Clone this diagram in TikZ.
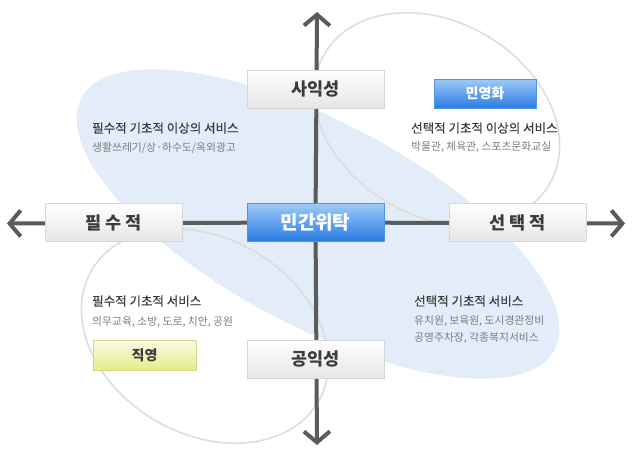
\documentclass[tikz,border=0pt]{standalone}
\usepackage{fontspec}
\setmainfont{Noto Sans CJK KR}
\newfontfamily\headfont[FakeBold=0.5]{Noto Sans CJK KR}
\usepackage{tikz}
\usetikzlibrary{arrows.meta}
\usetikzlibrary{backgrounds}
\usetikzlibrary{positioning}
\definecolor{axisgray}{HTML}{5B5B5B}
\definecolor{boxline}{HTML}{D6D6D6}
\definecolor{boxgray}{HTML}{E6E6E6}
\definecolor{blueline}{HTML}{4F94E6}
\definecolor{bluetop}{HTML}{9DCBF7}
\definecolor{bluebot}{HTML}{2A7BE4}
\definecolor{yellowline}{HTML}{D6D68E}
\definecolor{yellowtop}{HTML}{FBFDE6}
\definecolor{yellowbot}{HTML}{E3EC8A}
\definecolor{blobblue}{HTML}{E2EDF9}
\definecolor{ringgray}{HTML}{DDDDDD}
\definecolor{headtext}{HTML}{3C3C3C}
\definecolor{subtext}{HTML}{7C7C7C}
\tikzset{axis/.style = {draw = axisgray, line width = 4,
                        -{Straight Barb[length = 11, width = 26]}}}
\tikzset{ring/.style = {draw = ringgray, line width = 1.6}}
\tikzset{graybox/.style = {draw = boxline, top color = white, bottom color = boxgray,
                           minimum width = 137, minimum height = 38, inner sep = 0,
                           text = headtext, font = \bfseries\fontsize{17.5}{17.5}\selectfont}}
\tikzset{bluebox/.style = {draw = blueline, top color = bluetop, bottom color = bluebot,
                           inner sep = 0, text = white, font = \bfseries}}
\tikzset{yellowbox/.style = {draw = yellowline, top color = yellowtop, bottom color = yellowbot,
                             inner sep = 0, text = headtext,
                             font = \bfseries\fontsize{14}{14}\selectfont}}
\tikzset{head/.style = {anchor = west, inner sep = 0, text = headtext,
                        font = \headfont\fontsize{12.5}{13}\selectfont}}
\tikzset{sub/.style = {anchor = north west, inner sep = 0, text = subtext, align = left,
                       font = \fontsize{10.8}{17}\selectfont}}

\begin{document}
\begin{tikzpicture}[x = 1pt, y = -1pt]
      \useasboundingbox (0, 0) rectangle (636, 456);

      \node [bluebox, minimum width = 137, minimum height = 38,
             font = \bfseries\fontsize{19}{19}\selectfont] (trust) at (315.5, 222.5) {민간위탁};
      \node [graybox] (private) at (315.5, 89) {사익성};
      \node [graybox] (public) at (315.5, 359) {공익성};
      \node [graybox] (essential) at (113.5, 222.5) {필 수 적};
      \node [graybox] (optional) at (517.5, 222.5) {선 택 적};

      \node [bluebox, minimum width = 102, minimum height = 29,
             font = \bfseries\fontsize{14}{14}\selectfont] (privatize) at (485, 93.5) {민영화};
      \node [yellowbox, minimum width = 103, minimum height = 30] (direct) at (144.5, 355) {직영};

      \node [head] (h1) at (92, 128) {필수적 기초적 이상의 서비스};
      \node [sub, below = 8pt of h1.south west, anchor = north west] (s1) {생활쓰레기/상·하수도/옥외광고};
      \node [head] (h2) at (411, 128) {선택적 기초적 이상의 서비스};
      \node [sub, below = 7pt of h2.south west, anchor = north west] (s2) {박물관, 체육관, 스포츠문화교실};
      \node [head] (h3) at (92, 301) {필수적 기초적 서비스};
      \node [sub, below = 9pt of h3.south west, anchor = north west] (s3) {의무교육, 소방, 도로, 치안, 공원};
      \node [head] (h4) at (414, 301) {선택적 기초적 서비스};
      \node [sub, below = 8pt of h4.south west, anchor = north west] (s4) {유치원, 보육원, 도시경관정비\\공영주차장, 각종복지서비스};

      \coordinate (up) at (317, 12);
      \coordinate (down) at (317, 445);
      \coordinate (left) at (7, 223.5);
      \coordinate (right) at (625, 223.5);

      \begin{scope}[on background layer]
        \fill [blobblue, rotate around = {-28:(318, 224)}]
              (318, 224) ellipse [x radius = 268, y radius = 102];
        \draw [ring, rotate around = {-30:(437, 119)}]
              (437, 119) ellipse [x radius = 130, y radius = 97];
        \draw [ring, rotate around = {-30:(205, 336)}]
              (205, 336) ellipse [x radius = 131, y radius = 98];
        \draw [axis] (trust) -- (up);
        \draw [axis] (trust) -- (down);
        \draw [axis] (trust) -- (left);
        \draw [axis] (trust) -- (right);
      \end{scope}
    \end{tikzpicture}
\end{document}
